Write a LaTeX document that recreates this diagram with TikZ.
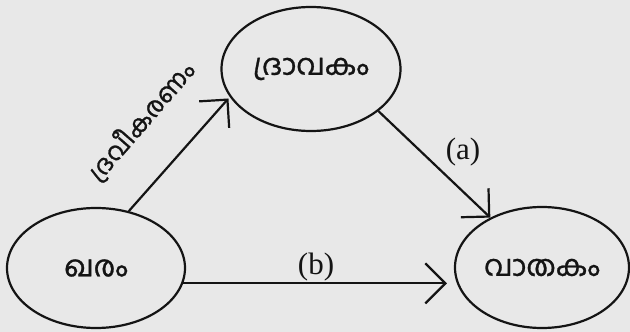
\documentclass[tikz,border=0pt]{standalone}
\usepackage{fontspec}
\setmainfont{Liberation Serif}
\newfontfamily\malfont[Script=Malayalam, FakeBold=1]{Hind Kochi}
\usetikzlibrary{shapes.geometric,arrows.meta}
\definecolor{paper}{gray}{0.91}
\definecolor{ink}{gray}{0.08}
\tikzset{
  phase/.style={draw=ink, text=ink, ellipse, line width=2.2pt, inner sep=0pt,
    font=\malfont\fontsize{29}{34}\selectfont},
  arr/.style={draw=ink, line width=2.2pt, -{Straight Barb[length=20pt,width=40pt]}},
  lbl/.style={text=ink, font=\fontsize{31}{36}\selectfont}
}

\begin{document}
\begin{tikzpicture}[x=1pt,y=1pt]
  \fill[paper] (0,0) rectangle (630,332);
  \useasboundingbox (0,0) rectangle (630,332);
  \node[phase, minimum width=179pt, minimum height=124pt] (liquid) at (311,263) {ദ്രാവകം};
  \node[phase, minimum width=178pt, minimum height=120pt] (solid) at (96,64) {ഖരം};
  \node[phase, minimum width=174pt, minimum height=121pt] (gas) at (542,64.5) {വാതകം};
  \draw[arr, shorten >=2pt] (solid.60) -- (liquid.199);
  \draw[arr] (liquid.-32) -- (gas.136);
  \draw[arr, shorten >=7pt] (solid.-10) -- (solid.-10 -| gas.west);
  \node[text=ink, rotate=49, font=\malfont\fontsize{25}{30}\selectfont] (melt) at (141,211) {ദ്രവീകരണം};
  \node[lbl] (la) at (463,180) {(a)};
  \node[lbl] (lb) at (316,65) {(b)};% on the lower arrow
\end{tikzpicture}
\end{document}
